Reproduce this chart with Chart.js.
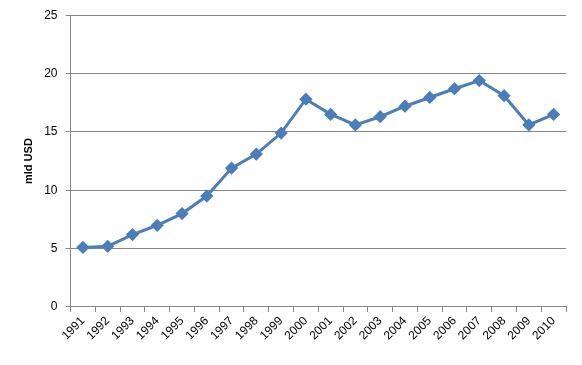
<!DOCTYPE html>
<html>
<head>
<meta charset="utf-8">
<script src="https://cdn.jsdelivr.net/npm/chart.js@4/dist/chart.umd.min.js"></script>
<style>
  html, body { margin: 0; padding: 0; background: #fff; }
  #wrap { width: 582px; height: 365px; position: relative; }
</style>
</head>
<body>
<div id="wrap"><canvas id="chart"></canvas></div>
<script>
const years = ['1991', '1992', '1993', '1994', '1995', '1996', '1997', '1998', '1999', '2000',
  '2001', '2002', '2003', '2004', '2005', '2006', '2007', '2008', '2009', '2010'];
const values = [5.1, 5.2, 6.2, 7.0, 8.0, 9.5, 11.9, 13.1, 14.9, 17.8,
  16.5, 15.6, 16.3, 17.2, 17.95, 18.7, 19.4, 18.1, 15.6, 16.5];
const yTicks = [0, 5, 10, 15, 20, 25];

const BLUE = '#4a7ebb';
const GRID = '#868686';
const FONT = "'Liberation Sans', Arial, sans-serif";

new Chart(document.getElementById('chart').getContext('2d'), {
  type: 'line',
  data: {
    labels: years,
    datasets: [{
      data: values,
      borderColor: BLUE,
      backgroundColor: BLUE,
      borderWidth: 3,
      pointStyle: 'rectRot',
      pointRadius: 4.5,
      pointHoverRadius: 4.5,
      tension: 0,
    }],
  },
  options: {
    responsive: true,
    maintainAspectRatio: false,
    animation: false,
    layout: { padding: { left: 18, right: 16, top: 9, bottom: 20 } },
    plugins: { legend: { display: false }, tooltip: { enabled: false } },
    scales: {
      x: {
        offset: true,
        grid: { offset: true, drawOnChartArea: false, drawTicks: true, tickLength: 5, color: GRID },
        border: { color: GRID, width: 1 },
        ticks: { color: '#000', font: { family: FONT, size: 12 }, minRotation: 45, maxRotation: 45, padding: 2 },
      },
      y: {
        min: 0,
        max: 25,
        afterBuildTicks: axis => { axis.ticks = yTicks.map(v => ({ value: v })); },
        grid: { color: GRID, lineWidth: 1, tickLength: 5 },
        border: { color: GRID, width: 1 },
        ticks: { color: '#000', font: { family: FONT, size: 12 }, padding: 8 },
        title: { display: true, text: 'mld USD', color: '#000', font: { family: FONT, size: 11, weight: 'bold' }, padding: { top: 4, bottom: 1 } },
      },
    },
  },
});
</script>
</body>
</html>
